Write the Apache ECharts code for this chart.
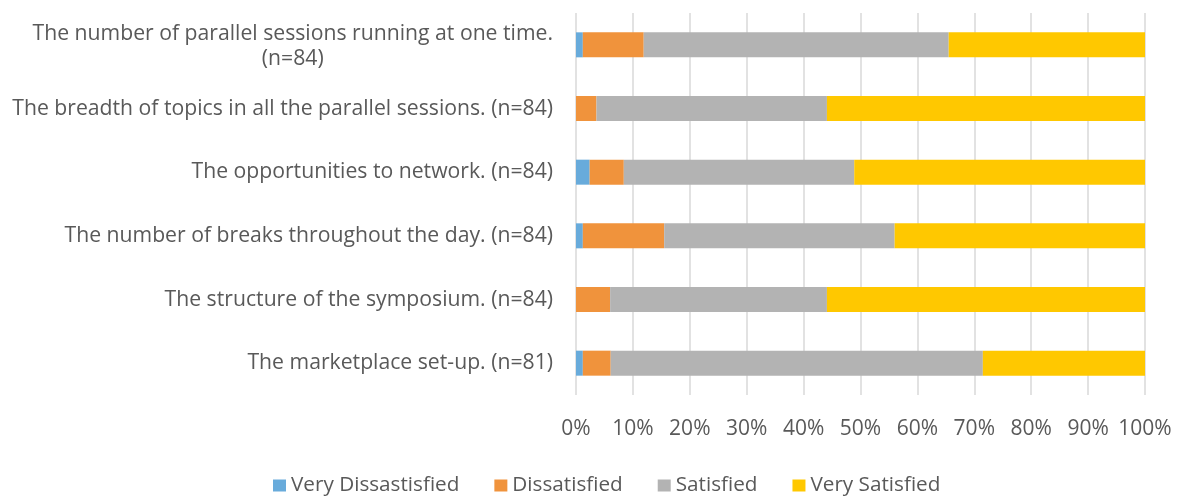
<!DOCTYPE html>
<html>
<head>
<meta charset="utf-8">
<script src="https://cdn.jsdelivr.net/npm/echarts@6/dist/echarts.min.js"></script>
<style>html,body{margin:0;padding:0;background:#fff;}#c{width:1180px;height:500px;}</style>
</head>
<body>
<div id="c"></div>
<script>
const categories = [
  "The number of parallel sessions running at one time.\n(n=84)",
  "The breadth of topics in all the parallel sessions. (n=84)",
  "The opportunities to network. (n=84)",
  "The number of breaks throughout the day. (n=84)",
  "The structure of the symposium. (n=84)",
  "The marketplace set-up. (n=81)"
];
const seriesNames = ["Very Dissastisfied", "Dissatisfied", "Satisfied", "Very Satisfied"];
const veryDissatisfied = [1.2, 0, 2.4, 1.2, 0, 1.2];
const dissatisfied = [10.7, 3.6, 6.0, 14.3, 6.0, 4.9];
const satisfied = [53.6, 40.5, 40.5, 40.5, 38.1, 65.4];
const verySatisfied = [34.5, 55.9, 51.1, 44.0, 55.9, 28.5];
const xTicks = { min: 0, max: 100, interval: 10 };
const colors = ["#68ABDB", "#F0933C", "#B3B3B3", "#FFC800"];

const values = [veryDissatisfied, dissatisfied, satisfied, verySatisfied];
const font = "Open Sans";
const fs = 21.2;
const textColor = "#595959";

const chart = echarts.init(document.getElementById('c'), null, { renderer: 'canvas' });
chart.setOption({
  animation: false,
  backgroundColor: '#ffffff',
  textStyle: { fontFamily: font },
  grid: { left: 576, right: 35, top: 13, bottom: 105, containLabel: false },
  legend: {
    data: seriesNames,
    left: 268,
    top: 470,
    itemWidth: 13,
    itemHeight: 12,
    itemGap: 35,
    icon: 'rect',
    textStyle: { fontFamily: font, fontSize: 20.7, color: textColor }
  },
  xAxis: {
    type: 'value',
    min: xTicks.min,
    max: xTicks.max,
    interval: xTicks.interval,
    axisLine: { show: false },
    axisTick: { show: false },
    splitLine: { show: true, lineStyle: { color: '#d9d9d9', width: 1.5 } },
    axisLabel: { formatter: '{value}%', fontFamily: font, fontSize: 21, color: textColor, margin: 24 }
  },
  yAxis: {
    type: 'category',
    inverse: true,
    data: categories,
    axisLine: { show: false },
    axisTick: { show: false },
    axisLabel: {
      margin: 23,
      fontFamily: font,
      fontSize: fs,
      color: textColor,
      lineHeight: 28,
      formatter: function (v) {
        const parts = v.split('\n');
        if (parts.length > 1) {
          return parts.map(function (s, i) { return (i === 0 ? '{t|' : '{c|') + s + '}'; }).join('\n');
        }
        return '{c|' + v + '}';
      },
      rich: {
        c: { align: 'center', fontFamily: font, fontSize: fs, color: textColor, lineHeight: 28 },
        t: { align: 'center', fontFamily: font, fontSize: fs, color: textColor, lineHeight: 28, padding: [6, 0, 0, 0] }
      }
    }
  },
  series: seriesNames.map(function (name, i) {
    return {
      name: name,
      type: 'bar',
      stack: 'total',
      barWidth: 25,
      itemStyle: { color: colors[i] },
      emphasis: { disabled: true },
      data: values[i]
    };
  })
});
</script>
</body>
</html>
